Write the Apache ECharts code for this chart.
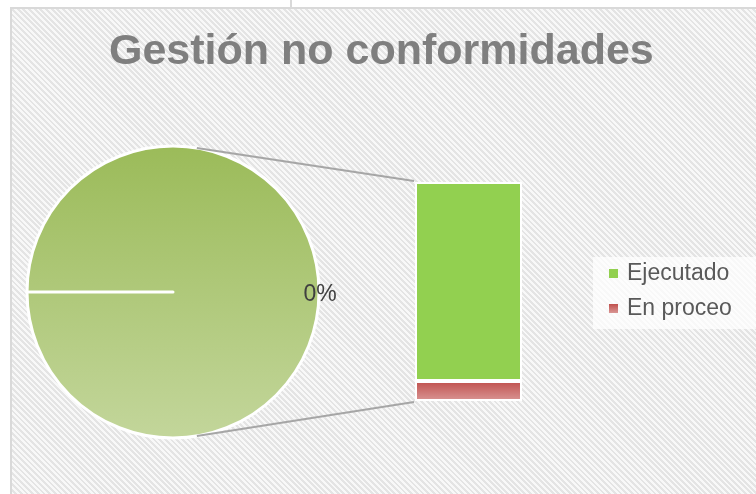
<!DOCTYPE html>
<html>
<head>
<meta charset="utf-8">
<title>Gestión no conformidades</title>
<script src="https://cdn.jsdelivr.net/npm/echarts@6/dist/echarts.min.js"></script>
<style>
  html, body { margin: 0; padding: 0; background: #fff; }
  #wrap { position: relative; width: 756px; height: 494px; overflow: hidden; }
  #tick { position: absolute; left: 290px; top: 0; width: 2px; height: 8px; background: #d9d9d9; }
  #main {
    position: absolute; left: 10px; top: 7px; width: 744px; height: 485px;
    border-left: 2px solid #d9d9d9; border-top: 2px solid #d9d9d9;
    background: repeating-linear-gradient(45deg, #f8f8f8 0px, #f8f8f8 2px, #e4e4e4 2px, #e4e4e4 4px);
  }
</style>
</head>
<body>
<div id="wrap">
  <div id="tick"></div>
  <div id="main"></div>
</div>
<script>
// datos
var categories = ["Ejecutado", "En proceo"];
var barValues = [10, 1];
var pieNames = ["Otro", "Sin datos"];
var pieValues = [barValues[0] + barValues[1], 0];

// colores
var green = "#92d050";
var red = {
  type: "linear", x: 0, y: 0, x2: 0, y2: 1,
  colorStops: [{ offset: 0, color: "#c0504d" }, { offset: 1, color: "#d99694" }]
};
var pieFill = {
  type: "linear", x: 0, y: 0, x2: 0, y2: 1,
  colorStops: [{ offset: 0, color: "#9bbb59" }, { offset: 1, color: "#c3d69b" }]
};

// posiciones (px dentro del grafico)
var pieCenter = [161, 283];
var pieRadius = 146;
var barLeft = 403, barWidth = 107, barTop = 173, barHeight = 219;

var chart = echarts.init(document.getElementById("main"));

var option = {
  backgroundColor: "transparent",
  animation: false,
  title: {
    text: "Gestión no conformidades",
    left: 97,
    top: 22,
    padding: 0,
    textStyle: { color: "#7f7f7f", fontSize: 43, fontWeight: "bold", fontFamily: "Liberation Sans" }
  },
  legend: {
    data: categories,
    orient: "vertical",
    left: 581,
    top: 248,
    padding: [5, 24, 9, 16],
    backgroundColor: "rgba(255,255,255,0.75)",
    icon: "rect",
    itemWidth: 9,
    itemHeight: 9,
    itemGap: 12,
    itemStyle: { borderWidth: 0 },
    textStyle: { color: "#595959", fontSize: 23, fontFamily: "Liberation Sans", padding: [0, 0, 0, 4] }
  },
  grid: { left: barLeft, top: barTop, width: barWidth, height: barHeight },
  xAxis: { type: "category", data: [""], show: false },
  yAxis: { type: "value", min: 0, max: pieValues[0], show: false },
  series: [
    {
      name: categories[1],
      type: "bar",
      stack: "total",
      barWidth: "100%",
      data: [barValues[1]],
      itemStyle: { color: red, borderColor: "#fff", borderWidth: 2 }
    },
    {
      name: categories[0],
      type: "bar",
      stack: "total",
      barWidth: "100%",
      data: [barValues[0]],
      itemStyle: { color: green, borderColor: "#fff", borderWidth: 2 }
    },
    {
      type: "pie",
      center: pieCenter,
      radius: pieRadius,
      startAngle: 180,
      clockwise: true,
      legendHoverLink: false,
      data: [
        { name: pieNames[0], value: pieValues[0], label: { show: false } },
        { name: pieNames[1], value: pieValues[1] }
      ],
      itemStyle: { color: pieFill, borderColor: "#fff", borderWidth: 3 },
      label: {
        show: true,
        position: "inside",
        formatter: "{d}%",
        color: "#404040",
        fontSize: 23,
        fontFamily: "Liberation Sans"
      },
      labelLayout: { x: 308, y: 286, align: "center", verticalAlign: "middle" },
      emphasis: { disabled: true }
    }
  ]
};
chart.setOption(option);

// lineas que unen la torta con la barra
function drawConnectors() {
  var ang = 80.6 * Math.PI / 180;
  var px = pieCenter[0] + pieRadius * Math.cos(ang);
  var topY = pieCenter[1] - pieRadius * Math.sin(ang);
  var botY = pieCenter[1] + pieRadius * Math.sin(ang);
  var top = chart.convertToPixel({ gridIndex: 0 }, [0, pieValues[0]]);
  var bot = chart.convertToPixel({ gridIndex: 0 }, [0, 0]);
  var style = { stroke: "#a6a6a6", lineWidth: 2 };
  chart.setOption({
    graphic: [
      { type: "line", shape: { x1: px, y1: topY, x2: barLeft - 1, y2: top[1] - 1 }, style: style, z: 10 },
      { type: "line", shape: { x1: px, y1: botY, x2: barLeft - 1, y2: bot[1] + 1 }, style: style, z: 10 }
    ]
  });
}
drawConnectors();
</script>
</body>
</html>
